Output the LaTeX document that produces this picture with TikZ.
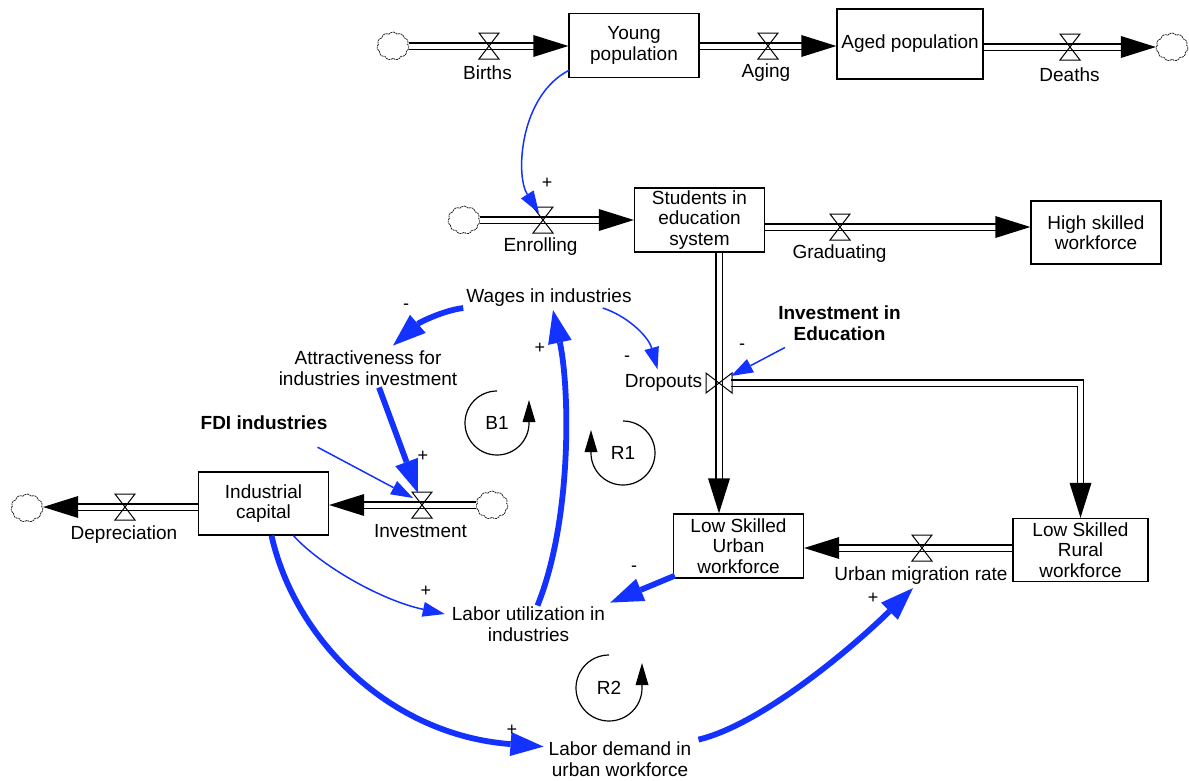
\documentclass[tikz,border=0pt]{standalone}
\usepackage{fontspec}
\setmainfont{Liberation Sans}
\usetikzlibrary{arrows.meta}
\usetikzlibrary{shapes.symbols}
\usetikzlibrary{decorations.markings}

\definecolor{linkblue}{RGB}{20,50,255}
\newcommand{\varfont}{\fontsize{19}{20.5}\selectfont}
\newcommand{\signfont}{\fontsize{18}{18}\selectfont}

\tikzset{valve/.pic={\draw[line width=1pt] (-10pt,-13pt) -- (10pt,-13pt) -- (-10pt,13pt) -- (10pt,13pt) -- cycle;}}

\begin{document}
\begin{tikzpicture}[x=1pt, y=-1pt,
	stock/.style={rectangle, draw, line width=1.3pt, align=center, font=\varfont, inner sep=0pt, minimum width=130pt, minimum height=64pt},
	var/.style={align=center, font=\varfont, inner sep=1pt},
	sign/.style={font=\signfont, inner sep=0pt},
	source/.style={cloud, cloud puffs=11, cloud puff arc=110, aspect=1.2, draw=black!85, line width=0.8pt, dash pattern=on 2pt off 0.7pt, minimum width=32pt, minimum height=28pt, inner sep=0pt},
	flow/.style={double=white, double distance=5pt, line width=1.3pt, shorten >=32pt, postaction={decorate, decoration={markings, mark=at position 1 with {\fill[shorten >=0pt] (0pt,0pt) -- (-35pt,11pt) -- (-35pt,-11pt) -- cycle;}}}},
	link/.style={draw=linkblue, line width=1.5pt, -{Triangle[length=22pt,width=15pt,line width=0pt]}},
	strong/.style={draw=linkblue, line width=5.8pt, -{Triangle[length=33pt,width=24pt,line width=0pt]}},
	loopsym/.style={line width=1.2pt, -{Triangle[length=22pt,width=13pt,line width=0pt]}}]
	\useasboundingbox (0,0) rectangle (1189,780);

	% stocks
	\node[stock] (young) at (634,45.5) {Young\\population};
	\node[stock, minimum width=146pt, minimum height=70pt] (aged) at (910,44) {Aged population};
	\node[stock] (stud) at (699.5,220) {Students in\\education\\system};
	\node[stock, minimum height=63pt] (high) at (1096,232.5) {High skilled\\workforce};
	\node[stock, minimum height=63pt] (ind) at (263.5,503.5) {Industrial\\capital};
	\node[stock] (urban) at (738.5,546) {Low Skilled\\Urban\\workforce};
	\node[stock, minimum width=135pt, minimum height=63pt] (rural) at (1080.5,550) {Low Skilled\\Rural\\workforce};

	% clouds
	\node[source] (c1) at (393,46) {};
	\node[source] (c2) at (1172,47) {};
	\node[source] (c3) at (464,220) {};
	\node[source] (c4) at (492,505) {};
	\node[source] (c5) at (27,508) {};

	% valves
	\coordinate (births) at (489,46);
	\coordinate (aging) at (768,46);
	\coordinate (deaths) at (1070,47);
	\coordinate (enrol) at (543,220);
	\coordinate (grad) at (840,227);
	\coordinate (dropv) at (719,383);
	\coordinate (migv) at (922,548);
	\coordinate (inv) at (422,505);
	\coordinate (depr) at (125,507);

	% flows
	\draw[flow] (c1.east |- births) -- (young.west |- births);
	\draw[flow] (young.east |- aging) -- (aged.west |- aging);
	\draw[flow] (aged.east |- deaths) -- (c2.west |- deaths);
	\draw[flow] (c3.east |- enrol) -- (stud.west |- enrol);
	\draw[flow] (stud.east |- grad) -- (high.west |- grad);
	\draw[flow] ([xshift=12pt]dropv) -| (rural.north);
	\draw[flow] (stud.south -| dropv) -- (urban.north -| dropv);
	\draw[flow] (rural.west |- migv) -- (urban.east |- migv);
	\draw[flow] (c4.west |- inv) -- (ind.east |- inv);
	\draw[flow] (ind.west |- depr) -- (c5.east |- depr);

	\foreach \v in {births,aging,deaths,enrol,grad,migv,inv,depr}
		\pic at (\v) {valve};
	\pic[rotate=90] at (dropv) {valve};

	% flow names
	\node[var] (birthsl) at (487.5,73) {Births};
	\node[var] (agingl) at (766,73) {Aging};
	\node[var] (deathsl) at (1069.5,75) {Deaths};
	\node[var] (enroll) at (540.5,247) {Enrolling};
	\node[var] (gradl) at (839.5,254) {Graduating};
	\node[var] (drop) at (663.5,383) {Dropouts};
	\node[var] (migl) at (921,576) {Urban migration rate};
	\node[var] (invl) at (420.5,531) {Investment};
	\node[var] (deprl) at (124,535) {Depreciation};

	% auxiliaries
	\node[var] (wages) at (549,298) {Wages in industries};
	\node[var] (attr) at (368,368) {Attractiveness for\\industries investment};
	\node[var, font=\varfont\bfseries] (fdi) at (264,423) {FDI industries};
	\node[var, font=\varfont\bfseries] (ie) at (839.5,323) {Investment in\\Education};
	\node[var] (util) at (528.5,624) {Labor utilization in\\industries};
	\node[var] (demand) at (620,759) {Labor demand in\\urban workforce};

	% loops
	\node[var] (b1) at (497,423) {B1};
	\node[var] (r1) at (623,453) {R1};
	\node[var] (r2) at (609,688) {R2};
	\draw[loopsym] ([yshift=32pt]b1.center) arc[start angle=-90, end angle=-360, radius=32] -- ++(0,-23);
	\draw[loopsym] ([yshift=32pt]r1.center) arc[start angle=-90, end angle=180, radius=32] -- ++(0,-23);
	\draw[loopsym] ([yshift=33pt]r2.center) arc[start angle=-90, end angle=-360, radius=33] -- ++(0,-25);

	% links
	\draw[link] ([shift={(1,-8)}]young.south west) .. controls (520,95) and (515,175) .. ([shift={(-4,-7)}]enrol);
	\draw[strong] ([shift={(-2,0)}]wages.south west) .. controls (445,310) and (420,322) .. ([shift={(25,-4)}]attr.north);
	\draw[link] ([shift={(-30,0)}]wages.south east) .. controls (625,315) and (648,335) .. ([shift={(-6,-4)}]drop.north);
	\draw[link] ([shift={(8,6)}]ie.south west) -- ([shift={(12,-7)}]dropv);
	\draw[strong] ([shift={(11,1)}]attr.south) -- ([shift={(-4,-12)}]inv);
	\draw[link] ([shift={(-11,16)}]fdi.south east) -- ([shift={(-9,-7)}]inv);
	\draw[link] ([shift={(30,0)}]ind.south) .. controls (320,565) and (380,600) .. ([shift={(-6,-10)}]util.west);
	\draw[strong] ([shift={(9,0)}]util.north) .. controls (572,520) and (570,390) .. ([shift={(4,2)}]wages.south);
	\draw[strong] ([shift={(2,-3)}]urban.south west) -- ([shift={(4,-3)}]util.north east);
	\draw[strong] ([shift={(8,0)}]ind.south) .. controls (295,640) and (390,735) .. ([shift={(-4,6)}]demand.north west);
	\draw[strong] ([shift={(6,-1)}]demand.north east) .. controls (760,725) and (850,650) .. ([shift={(-8,2)}]migl.south);

	% polarities
	\node[sign] (s1) at (547,183) {+};
	\node[sign] (s2) at (406,307) {-};
	\node[sign] (s3) at (627,359) {-};
	\node[sign] (s4) at (742,347) {-};
	\node[sign] (s5) at (423,456) {+};
	\node[sign] (s6) at (426,591) {+};
	\node[sign] (s7) at (540,348) {+};
	\node[sign] (s8) at (634,569) {-};
	\node[sign] (s9) at (512,730) {+};
	\node[sign] (s10) at (873,598) {+};
\end{tikzpicture}
\end{document}
